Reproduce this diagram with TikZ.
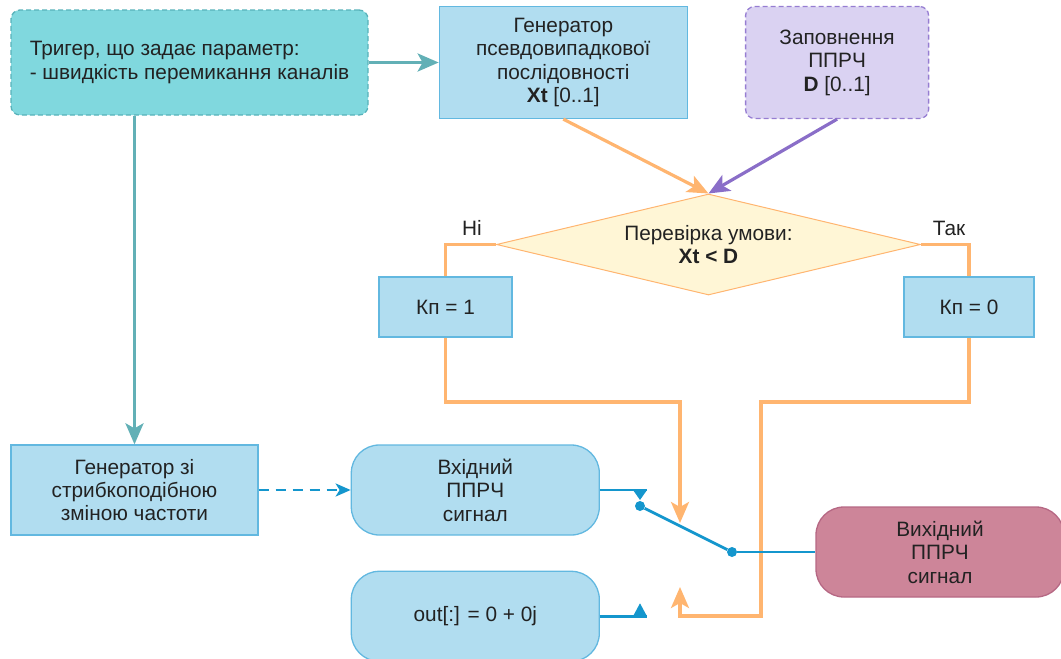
\documentclass[tikz,border=0pt]{standalone}
\usepackage{fontspec}
\setmainfont{Liberation Sans}
\usepackage{tikz}
\usetikzlibrary{shapes.geometric,arrows.meta,positioning}
\definecolor{ink}{RGB}{34,34,34}
\definecolor{trigfill}{RGB}{128,216,222}
\definecolor{trigline}{RGB}{88,178,186}
\definecolor{tealarr}{RGB}{98,176,182}
\definecolor{boxfill}{RGB}{177,221,240}
\definecolor{boxline}{RGB}{98,184,224}
\definecolor{lilacfill}{RGB}{218,210,242}
\definecolor{lilacline}{RGB}{150,125,210}
\definecolor{violetarr}{RGB}{138,110,200}
\definecolor{condfill}{RGB}{255,246,214}
\definecolor{orangeline}{RGB}{255,181,112}
\definecolor{rosefill}{RGB}{205,133,153}
\definecolor{roseline}{RGB}{182,104,132}
\definecolor{wireblue}{RGB}{20,150,205}
\newcommand{\dfont}{\fontsize{20.8}{23.4}\selectfont}

\begin{document}
\begin{tikzpicture}[
  x=1pt,y=-1pt,
  base/.style={font=\dfont,text=ink,align=center,inner sep=2pt,line width=1.3pt},
  box/.style={base,rectangle,draw=boxline,fill=boxfill},
  sig/.style={box,rounded corners=28pt,minimum width=248pt,minimum height=90pt},
  note/.style={base,rounded corners=9pt,dash pattern=on 5pt off 3pt},
  cond/.style={base,diamond,shape aspect=4.2,draw=orangeline,fill=condfill,line width=1pt,
    minimum width=424pt,minimum height=101pt,inner sep=0pt},
  lbl/.style={font=\dfont,text=ink,inner sep=0pt},
  tip/.style={-{Stealth[length=21pt,width=18pt,inset=5pt]}},
  teal/.style={tip,tealarr,line width=3.2pt},
  ctl/.style={orangeline,line width=3.2pt},
  wire/.style={wireblue,line width=2.8pt},
  dot/.style={circle,fill=wireblue,inner sep=0pt,minimum size=10pt},
]
  \useasboundingbox (0,0) rectangle (1061,659);
  % upper row
  \node[note,draw=trigline,fill=trigfill,minimum width=357pt,minimum height=105pt,
    align=left] (trig) at (189.5,62.5)
    {Тригер, що задає параметр:\\- швидкість перемикання каналів};
  \node[box,minimum width=248pt,minimum height=112pt,right=70pt of trig] (psg)
    {Генератор\\псевдовипадкової\\послідовності\\\textbf{Xt} [0..1]};
  \node[note,draw=lilacline,fill=lilacfill,minimum width=183pt,minimum height=112pt,
    right=57pt of psg] (fillp) {Заповнення\\ППРЧ\\\textbf{D} [0..1]};
  % condition
  \node[cond] (chk) at (708.5,244.5) {Перевірка умови:\\\textbf{Xt < D}};
  \node[box,minimum width=133pt,minimum height=60pt] (k1) at (445.5,307) {Кп = 1};
  \node[box,minimum width=130pt,minimum height=60pt] (k0) at (969,307) {Кп = 0};
  \node[lbl] (no) at (472,228) {Ні};
  \node[lbl] (yes) at (949,228) {Так};
  % lower row
  \node[box,minimum width=247pt,minimum height=90pt] (gen) at (134.5,490)
    {Генератор зі\\стрибкоподібною\\зміною частоти};
  \node[sig,right=92pt of gen] (inp) {Вхідний\\ППРЧ\\сигнал};
  \node[sig,below=35pt of inp] (zero) {out[:] = 0 + 0j};
  \node[sig,draw=roseline,fill=rosefill] (outp) at (940,552) {Вихідний\\ППРЧ\\сигнал};
  % switch
  \coordinate (c1) at (647,490);
  \coordinate (c2) at (c1 |- zero.east);
  \node[dot] (sw1) at (640,506) {};
  \node[dot] (sw2) at (732,552) {};
  \coordinate (j1) at (0,402);
  \coordinate (t1) at (680,523);
  \coordinate (t0) at (680,587);
  \coordinate (b0) at (761,616);

  \draw[teal] (trig.east) -- (psg.west);
  \draw[teal] (trig.south -| gen.north) -- (gen.north);
  \draw[tip,ctl] (psg.south) -- (chk.north);
  \draw[tip,violetarr,line width=3.2pt] (fillp.south) -- (chk.north);
  \draw[ctl] (chk.west) -| (k1.north);
  \draw[ctl] (chk.east) -| (k0.north);
  \draw[ctl,tip] (k1.south) -- (k1.south |- j1) -| (t1);
  \draw[ctl,tip] (k0.south) -- (k0.south |- j1) -| (b0) -| (t0);
  \draw[wire,-{Stealth[length=15pt,width=13pt,inset=4pt]},dash pattern=on 10pt off 7pt]
    (gen.east) -- (inp.west);
  \draw[wire] (inp.east) -- (c1);
  \draw[wire] (zero.east) -- (c2);
  \fill[wireblue] (c1) -- ++(-14,0) -- ++(7,10) -- cycle;
  \fill[wireblue] (c2) -- ++(-14,0) -- ++(7,-13) -- cycle;
  \draw[wire] (sw1) -- (sw2);
  \draw[wire] (sw2) -- (outp.west);
\end{tikzpicture}
\end{document}
